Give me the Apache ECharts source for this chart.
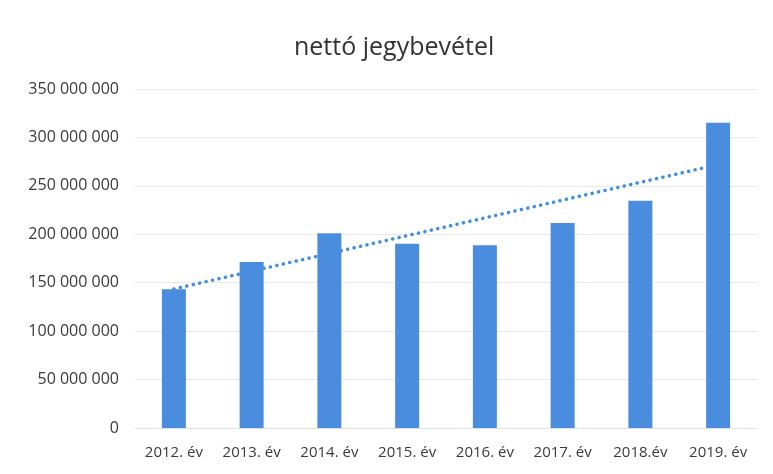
<!DOCTYPE html>
<html>
<head>
<meta charset="utf-8">
<script src="https://cdn.jsdelivr.net/npm/echarts@6/dist/echarts.min.js"></script>
<style>
html,body{margin:0;padding:0;background:#fff;}
#chart{width:773px;height:474px;}
</style>
</head>
<body>
<div id="chart"></div>
<script>
var categories = ['2012. év','2013. év','2014. év','2015. év','2016. év','2017. év','2018.év','2019. év'];
var revenue = [143200000, 171400000, 201000000, 190300000, 188600000, 211600000, 234700000, 315200000];
var trendCategories = ['2012. év', '2019. év'];
var trendValues = [143500000, 272000000];
var yTicks = [0, 50000000, 100000000, 150000000, 200000000, 250000000, 300000000, 350000000];

function fmt(v){
  return String(v).replace(/\B(?=(\d{3})+(?!\d))/g, ' ');
}

var trendData = trendCategories.map(function(c, i){ return [c, trendValues[i]]; });

var chart = echarts.init(document.getElementById('chart'));
chart.setOption({
  backgroundColor: '#fff',
  animation: false,
  title: {
    text: 'nettó jegybevétel',
    left: 289,
    top: 30,
    textStyle: {fontFamily: 'Open Sans', fontSize: 25, fontWeight: 'normal', color: '#333'}
  },
  grid: {left: 135, right: 16, top: 89, bottom: 46},
  xAxis: {
    type: 'category',
    data: categories,
    axisLine: {show: true, lineStyle: {color: '#e3e3e3'}},
    axisTick: {show: false},
    axisLabel: {fontFamily: 'Open Sans', fontSize: 15, color: '#3a3a3a', margin: 17, interval: 0}
  },
  yAxis: {
    type: 'value',
    min: yTicks[0],
    max: yTicks[yTicks.length - 1],
    interval: yTicks[1] - yTicks[0],
    axisLine: {show: false},
    axisTick: {show: false},
    splitLine: {lineStyle: {color: '#e8e8e8', width: 1}},
    axisLabel: {fontFamily: 'Open Sans', fontSize: 16, color: '#3a3a3a', margin: 16, formatter: fmt}
  },
  series: [
    {
      type: 'bar',
      data: revenue,
      barWidth: 24,
      z: 3,
      itemStyle: {color: '#4a8ddf'}
    },
    {
      type: 'line',
      data: trendData,
      z: 2,
      symbol: 'none',
      lineStyle: {color: '#3d8fe3', width: 3.5, type: [0.1, 6.5], cap: 'round'}
    }
  ]
});
</script>
</body>
</html>
